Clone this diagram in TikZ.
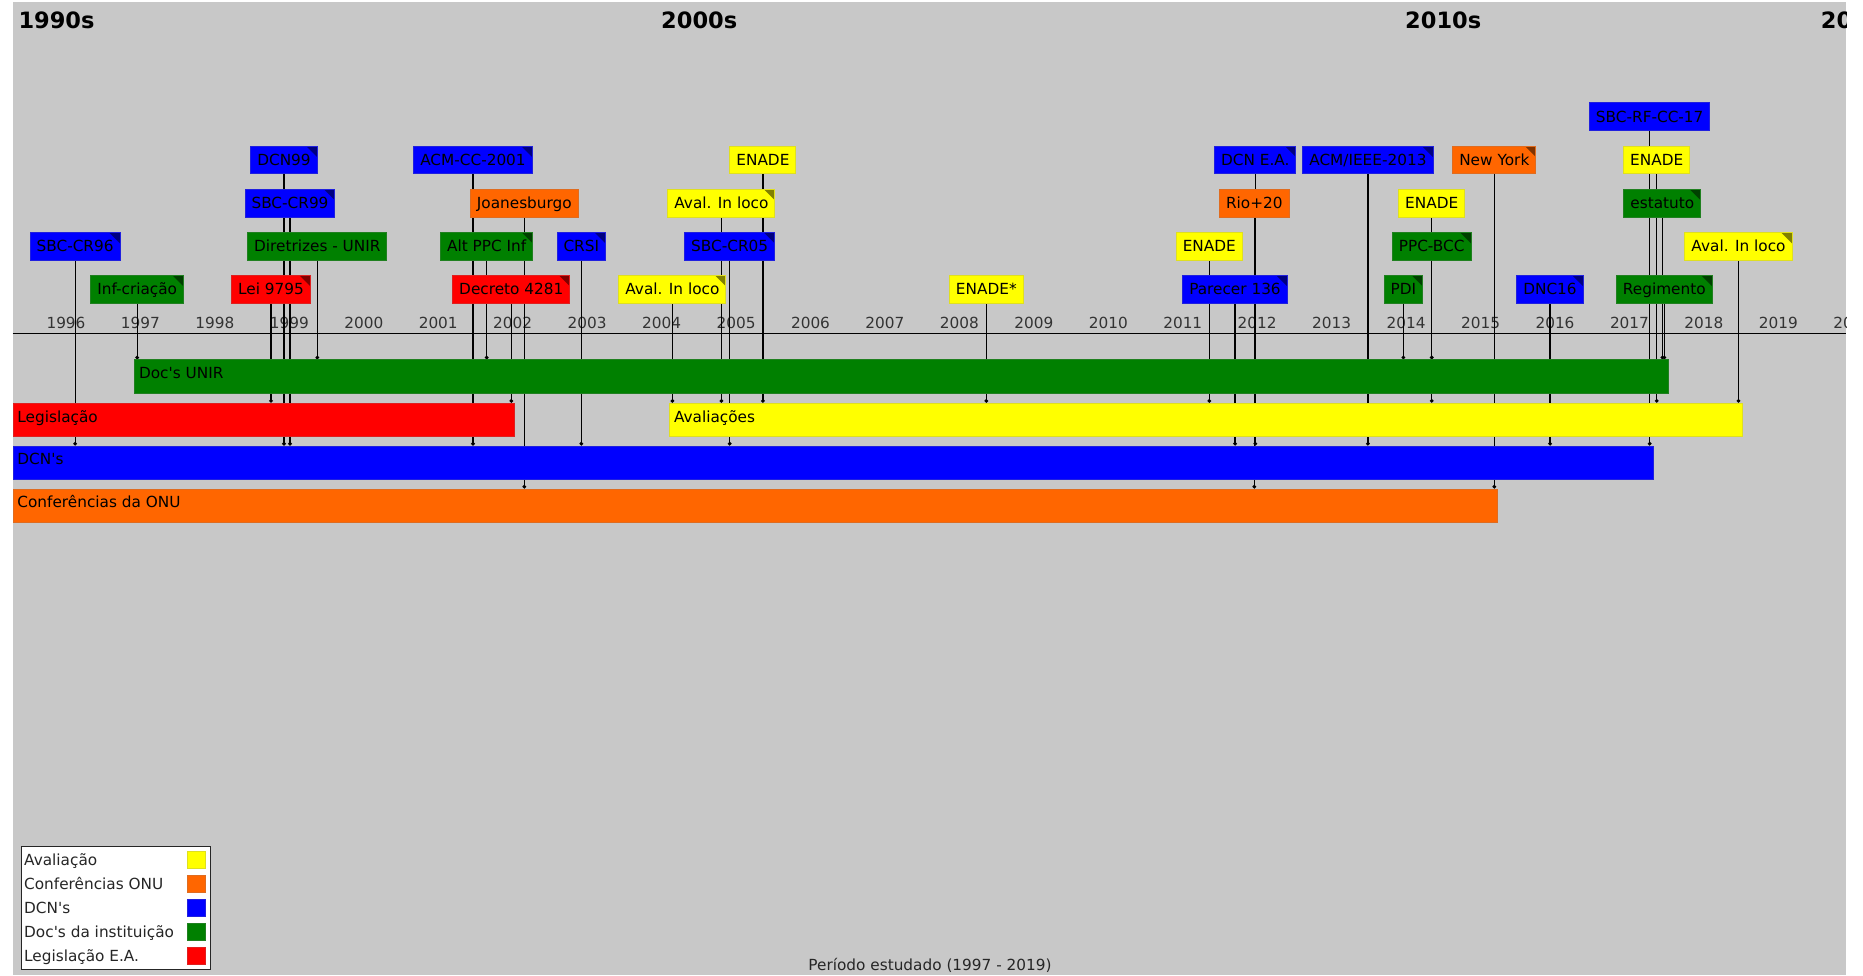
\documentclass[tikz,border=0pt]{standalone}
\usepackage{fontspec}
\setmainfont{DejaVu Sans}
\usepackage{xcolor}
\usepackage{tikz}
\usetikzlibrary{arrows.meta}
\definecolor{tlYellow}{RGB}{255,255,0}
\definecolor{tlOrange}{RGB}{255,102,0}
\definecolor{tlBlue}{RGB}{0,0,255}
\definecolor{tlGreen}{RGB}{0,128,0}
\definecolor{tlRed}{RGB}{255,0,0}
\definecolor{tlGray}{RGB}{200,200,200}
\pgfdeclarelayer{back}
\pgfdeclarelayer{wires}
\pgfsetlayers{back,wires,main}
\newcommand{\txtsize}{\fontsize{15.3pt}{18pt}\selectfont}
\newcommand{\apo}{\textquotesingle}
\tikzset{
  evbox/.style={fill=#1, draw=#1!75!gray, line width=1pt, minimum height=27.7pt,
    inner xsep=6.5pt, inner ysep=0pt, text height=11.2pt, text depth=0pt, font=\txtsize},
  evnote/.style={evbox=#1, path picture={
    \fill[#1!50!black] ([xshift=-11pt]path picture bounding box.north east)
      -- (path picture bounding box.north east)
      -- ([yshift=-11pt]path picture bounding box.north east) -- cycle;}},
  bandbar/.style={fill=#1, draw=#1!75!gray, line width=1pt, anchor=north west,
    minimum height=33.4pt, inner sep=0pt},
  bandtxt/.style={anchor=west, font=\txtsize, text height=11.2pt, text depth=0pt, inner sep=0pt},
  yeartxt/.style={font=\txtsize, text=black!80, text height=11.2pt, text depth=0pt, inner sep=0pt},
  decade/.style={anchor=west, font=\fontsize{22.5pt}{26pt}\selectfont\bfseries,
    text height=16.4pt, text depth=0pt, inner sep=0pt},
  legkey/.style={fill=#1, draw=#1!75!gray, line width=1pt, minimum width=17.7pt,
    minimum height=16.7pt, inner sep=0pt},
  legtxt/.style={anchor=west, font=\txtsize, text=black!85, text height=11.2pt, text depth=0pt, inner sep=0pt},
  link/.style={line width=1.2pt, -{Circle[length=3.6pt]}},
}

\begin{document}
\begin{tikzpicture}[x=1pt, y=-1pt]
    \useasboundingbox (0,0) rectangle (1863,975);

    % --- Background, scale and decades ---
    \begin{pgfonlayer}{back}
    \fill[tlGray] (12.7,1.7) rectangle (1846,975);
    \begin{scope}
        \clip (12.7,1.7) rectangle (1846,975);
        \node[decade] (d1990) at (18.3,20) {1990s};
        \node[decade] (d2000) at (661,20) {2000s};
        \node[decade] (d2010) at (1405,20) {2010s};
        \node[decade] (d2020) at (1820.7,20) {2020s};
        \foreach \yr in {1996,...,2020}
            \node[yeartxt] (yr\yr) at ({66+74.45*(\yr-1996)},323) {\yr};
    \end{scope}
    \coordinate (axisL) at (12.7,333.3);
    \coordinate (axisR) at (1846,333.3);
    \draw[line width=1.2pt] (axisL) -- (axisR);
    \end{pgfonlayer}

    % --- Category bands ---
    \node[bandbar=tlGreen, minimum width=1533.9pt] (docs) at (134.4,359.3) {};
    \node[bandtxt] (docs-t) at ([xshift=4.5pt,yshift=-13.7pt]docs.north west) {Doc\apo s UNIR};
    \node[bandbar=tlRed, minimum width=501.3pt] (leg) at (12.7,402.7) {};
    \node[bandtxt] (leg-t) at ([xshift=4.5pt,yshift=-13.7pt]leg.north west) {Legislação};
    \node[bandbar=tlYellow, minimum width=1072.4pt] (aval) at (669.3,402.7) {};
    \node[bandtxt] (aval-t) at ([xshift=4.5pt,yshift=-13.7pt]aval.north west) {Avaliações};
    \node[bandbar=tlBlue, minimum width=1640.2pt] (dcn) at (12.7,445.5) {};
    \node[bandtxt] (dcn-t) at ([xshift=4.5pt,yshift=-13.7pt]dcn.north west) {DCN\apo s};
    \node[bandbar=tlOrange, minimum width=1484.3pt] (onu) at (12.7,488.5) {};
    \node[bandtxt] (onu-t) at ([xshift=4.5pt,yshift=-13.7pt]onu.north west) {Conferências da ONU};

    % --- Events ---
    % row 0 (next to the scale)
    \node[evnote=tlGreen] (infcriacao) at (137.2,289.2) {Inf-criação};
    \node[evnote=tlRed] (lei9795) at (271,289.2) {Lei 9795};
    \node[evnote=tlRed] (decreto) at (511.3,289.2) {Decreto 4281};
    \node[evnote=tlYellow] (aval04) at (672.4,289.2) {Aval. In loco};
    \node[evbox=tlYellow] (enade08) at (986.3,289.2) {ENADE*};
    \node[evnote=tlBlue] (parecer) at (1235,289.2) {Parecer 136};
    \node[evnote=tlGreen] (pdi) at (1403.4,289.2) {PDI};
    \node[evnote=tlBlue] (dnc16) at (1550,289.2) {DNC16};
    \node[evnote=tlGreen] (regimento) at (1664.3,289.2) {Regimento};

    % row 1
    \node[evnote=tlBlue] (sbccr96) at (75.1,246.2) {SBC-CR96};
    \node[evbox=tlGreen] (diretrizes) at (317.3,246.2) {Diretrizes - UNIR};
    \node[evnote=tlGreen] (altppc) at (486.7,246.2) {Alt PPC Inf};
    \node[evnote=tlBlue] (crsi) at (581.3,246.2) {CRSI};
    \node[evnote=tlBlue] (sbccr05) at (729.7,246.2) {SBC-CR05};
    \node[evbox=tlYellow] (enade11) at (1209.3,246.2) {ENADE};
    \node[evnote=tlGreen] (ppcbcc) at (1431.7,246.2) {PPC-BCC};
    \node[evnote=tlYellow] (aval18) at (1738.5,246.2) {Aval. In loco};

    % row 2
    \node[evnote=tlBlue] (sbccr99) at (290,203.2) {SBC-CR99};
    \node[evbox=tlOrange] (joanes) at (524.3,203.2) {Joanesburgo};
    \node[evnote=tlYellow] (aval05) at (721.4,203.2) {Aval. In loco};
    \node[evbox=tlOrange] (rio20) at (1254.3,203.2) {Rio+20};
    \node[evbox=tlYellow] (enade14) at (1431.7,203.2) {ENADE};
    \node[evnote=tlGreen] (estatuto) at (1662.3,203.2) {estatuto};

    % row 3
    \node[evnote=tlBlue] (dcn99) at (284,159.9) {DCN99};
    \node[evnote=tlBlue] (acmcc01) at (473,159.9) {ACM-CC-2001};
    \node[evbox=tlYellow] (enade05) at (762.9,159.9) {ENADE};
    \node[evnote=tlBlue] (dcnea) at (1255.3,159.9) {DCN E.A.};
    \node[evnote=tlBlue] (acmieee) at (1367.9,159.9) {ACM/IEEE-2013};
    \node[evnote=tlOrange] (newyork) at (1494.3,159.9) {New York};
    \node[evbox=tlYellow] (enade17) at (1656.7,159.9) {ENADE};

    % row 4
    \node[evbox=tlBlue] (sbcrf17) at (1649.7,116.6) {SBC-RF-CC-17};

    % --- Event to band wiring ---
    \begin{pgfonlayer}{wires}
    \foreach \ev in {sbccr96,dcn99,sbccr99,acmcc01,crsi,sbccr05,parecer,dcnea,acmieee,dnc16,sbcrf17}
        \draw[link] (\ev.south) -- (\ev.south |- dcn.north);
    \foreach \ev in {infcriacao,diretrizes,altppc,pdi,ppcbcc,estatuto,regimento}
        \draw[link] (\ev.south) -- (\ev.south |- docs.north);
    \foreach \ev in {lei9795,decreto}
        \draw[link] (\ev.south) -- (\ev.south |- leg.north);
    \foreach \ev in {aval04,aval05,enade05,enade08,enade11,enade14,enade17,aval18}
        \draw[link] (\ev.south) -- (\ev.south |- aval.north);
    \foreach \ev in {joanes,rio20,newyork}
        \draw[link] (\ev.south) -- (\ev.south |- onu.north);
    \end{pgfonlayer}

    % --- Legend ---
    \node[draw=black!85, fill=white, line width=1.2pt, anchor=north west,
          minimum width=189.3pt, minimum height=123pt, inner sep=0pt] (legbox) at (20.7,846) {};
    \foreach \txt/\col [count=\i] in {Avaliação/tlYellow, Conferências ONU/tlOrange,
            DCN\apo s/tlBlue, Doc\apo s da instituição/tlGreen, Legislação E.A./tlRed} {
        \node[legtxt] (leg-t\i) at (24,836+24*\i) {\txt};
        \node[legkey=\col] (leg-k\i) at (196.2,836+24*\i) {};
    }

    % --- Caption ---
    \node[font=\txtsize, text=black!85, text height=11.2pt, text depth=0pt, inner sep=0pt]
        (period) at (930,965) {Período estudado (1997 - 2019)};

\end{tikzpicture}
\end{document}
